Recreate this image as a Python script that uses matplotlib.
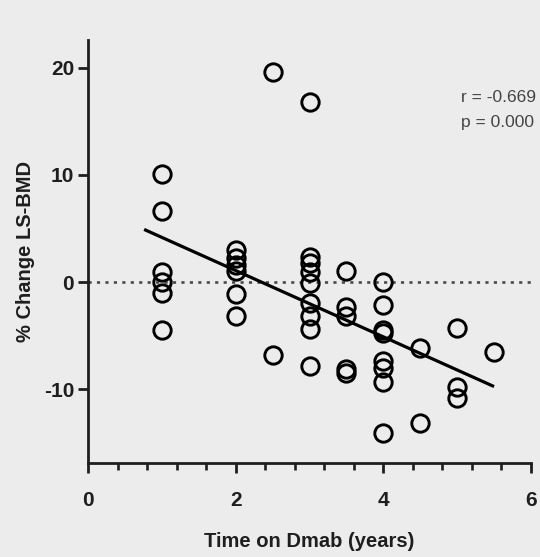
import numpy as np
import matplotlib
matplotlib.use("Agg")
import matplotlib.pyplot as plt
from matplotlib.ticker import MultipleLocator

# ---- data ----
years_1 = [1.0] * 6
change_1 = [10.1, 6.6, 0.9, 0.0, -1.0, -4.5]
years_2 = [2.0] * 6
change_2 = [3.0, 2.2, 1.6, 1.0, -1.1, -3.2]
years_25 = [2.5] * 2
change_25 = [19.6, -6.8]
years_3 = [3.0] * 9
change_3 = [16.8, 2.3, 1.8, 0.9, -0.1, -2.0, -3.2, -4.4, -7.8]
years_35 = [3.5] * 5
change_35 = [1.0, -2.3, -3.2, -8.1, -8.5]
years_4 = [4.0] * 8
change_4 = [0.0, -2.1, -4.5, -4.8, -7.4, -8.0, -9.3, -14.1]
years_45 = [4.5] * 2
change_45 = [-6.2, -13.2]
years_5 = [5.0] * 3
change_5 = [-4.3, -9.8, -10.8]
years_55 = [5.5]
change_55 = [-6.5]

x = np.array(years_1 + years_2 + years_25 + years_3 + years_35 +
             years_4 + years_45 + years_5 + years_55)
y = np.array(change_1 + change_2 + change_25 + change_3 + change_35 +
             change_4 + change_45 + change_5 + change_55)

# regression line as shown: start/end in years and values at those ends
fit_x = [0.78, 5.48]
fit_y = [4.85, -9.7]

stats_text = ["r = -0.669", "p = 0.000"]
x_ticks = [0, 2, 4, 6]
y_ticks = [-10, 0, 10, 20]

plt.rcParams['font.family'] = ['Liberation Sans', 'DejaVu Sans']
plt.rcParams['axes.unicode_minus'] = False
bg = '#ececec'
ink = '#1e1e1e'
fig = plt.figure(figsize=(5.4, 5.57), dpi=100, facecolor=bg)
ax = fig.add_axes([88/540, 1-463/557, (531-88)/540, (463-40)/557])
ax.set_facecolor(bg)

ax.axhline(0, color='#4a4a4a', lw=1.9, ls=(0, (1.2, 2.0)), zorder=1)
ax.plot(fit_x, fit_y, color='black', lw=2.3, zorder=3)
ax.plot(x, y, ls='none', marker='o', ms=12.5, mfc='none', mec='black', mew=2.1, zorder=4)

ax.set_xlim(0, 6)
ax.set_ylim(-16.9, 22.6)
ax.set_xticks(x_ticks)
ax.set_yticks(y_ticks)
ax.xaxis.set_minor_locator(MultipleLocator(0.4))
for s in ['top', 'right']:
    ax.spines[s].set_visible(False)
for s in ['left', 'bottom']:
    ax.spines[s].set_linewidth(2.0)
    ax.spines[s].set_color(ink)
ax.tick_params(axis='both', which='major', direction='out', length=7, width=2.0,
               colors=ink, labelsize=15)
ax.tick_params(axis='x', which='minor', direction='out', length=5, width=1.9, colors=ink)
ax.tick_params(axis='y', which='minor', left=False)
ax.tick_params(axis='x', pad=13)
ax.tick_params(axis='y', pad=3)
for lab in ax.get_xticklabels() + ax.get_yticklabels():
    lab.set_fontweight('bold')

ax.set_xlabel('Time on Dmab (years)', fontsize=14.5, fontweight='bold', color=ink, labelpad=16)
ax.set_ylabel('% Change LS-BMD', fontsize=14.5, fontweight='bold', color=ink, labelpad=6)

fig.text(536/540, 1-97/557, stats_text[0], ha='right', va='center', fontsize=12.5, color='#444444')
fig.text(534/540, 1-123/557, stats_text[1], ha='right', va='center', fontsize=12.5, color='#444444')

fig.savefig('out.png', dpi=100, facecolor=bg)
